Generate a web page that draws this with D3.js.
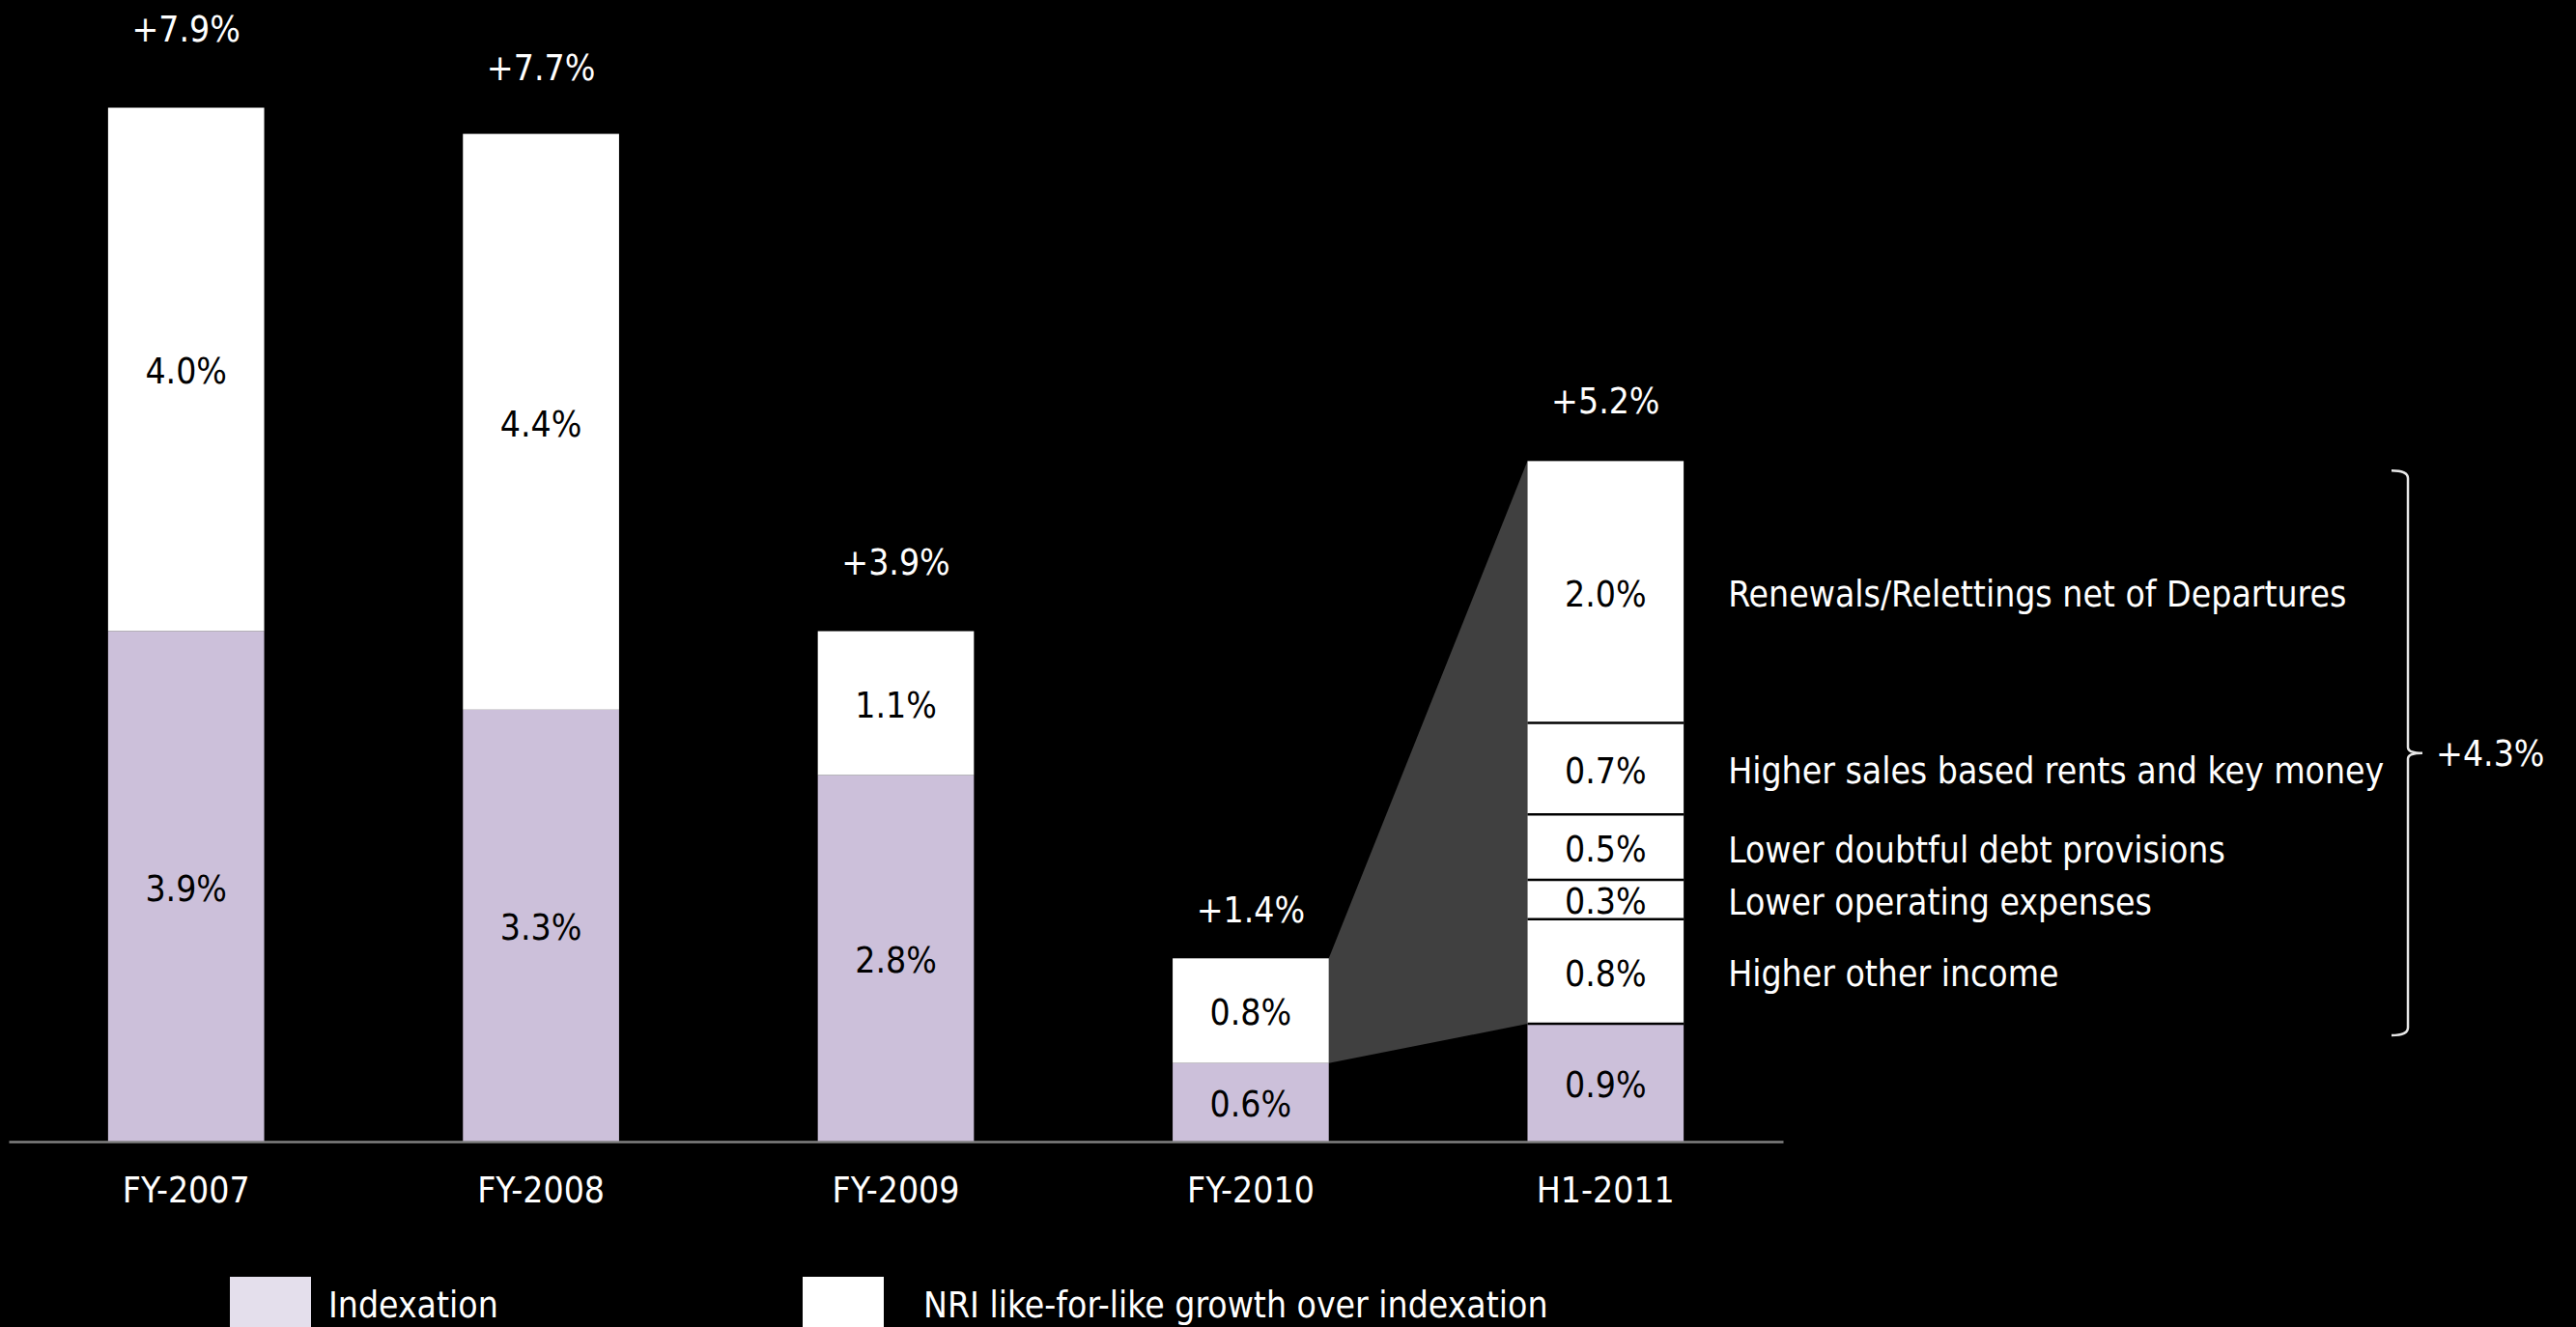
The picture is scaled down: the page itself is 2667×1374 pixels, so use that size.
<!DOCTYPE html>
<html>
<head>
<meta charset="utf-8">
<script src="https://cdn.jsdelivr.net/npm/d3@7"></script>
<style>
  html, body { margin: 0; padding: 0; background: #000; }
  svg { display: block; }
  text { font-family: "DejaVu Sans Condensed", "DejaVu Sans", sans-serif; font-stretch: condensed; font-size: 37px; }
</style>
</head>
<body>
<div id="chart"></div>
<script>
// data
var categories = ["FY-2007", "FY-2008", "FY-2009", "FY-2010", "H1-2011"];
var indexation = [3.9, 3.3, 2.8, 0.6, 0.9];
var lflGrowth = [4.0, 4.4, 1.1, 0.8, 4.3];
var totals = [7.9, 7.7, 3.9, 1.4, 5.2];

// H1-2011 growth split, bottom to top
var drivers = ["Higher other income", "Lower operating expenses", "Lower doubtful debt provisions",
               "Higher sales based rents and key money", "Renewals/Relettings net of Departures"];
var driverValues = [0.8, 0.3, 0.5, 0.7, 2.0];

var legendLabels = ["Indexation", "NRI like-for-like growth over indexation"];

// gap (px) between bar top and its total label, as placed on the slide
var totalGap = [69, 56, 59, 37, 49];

var width = 2667, height = 1374;
var lilac = "#CCC0DA", lilacLight = "#E4DFEC";
var pct = function(v) { return d3.format(".1f")(v) + "%"; };

var svg = d3.select("#chart").append("svg")
    .attr("width", width)
    .attr("height", height);

var x = d3.scaleBand()
    .domain(categories)
    .range([9, 1846])
    .paddingInner(0.56)
    .paddingOuter(0.28);

var y = d3.scaleLinear()
    .domain([0, 7.9])
    .range([1182, 111.5]);

var bw = x.bandwidth();
var last = categories.length - 1;

// grey wedge linking FY-2010 growth to the H1-2011 breakdown
var c0 = categories[3], c1 = categories[4];
svg.append("path")
    .attr("fill", "#404040")
    .attr("d", d3.line()([
      [x(c0) + bw, y(totals[3])],
      [x(c1), y(totals[4])],
      [x(c1), y(indexation[4])],
      [x(c0) + bw, y(indexation[3])]
    ]) + "Z");

var bars = svg.selectAll(".bar")
  .data(categories)
  .enter().append("g")
    .attr("class", "bar");

// indexation part
bars.append("rect")
    .attr("x", function(d) { return x(d); })
    .attr("width", bw)
    .attr("y", function(d, i) { return y(indexation[i]); })
    .attr("height", function(d, i) { return y(0) - y(indexation[i]); })
    .attr("fill", lilac);

bars.append("text")
    .attr("x", function(d) { return x(d) + bw / 2; })
    .attr("y", function(d, i) { return (y(0) + y(indexation[i])) / 2; })
    .attr("dy", "0.4em")
    .attr("text-anchor", "middle")
    .attr("fill", "#000")
    .text(function(d, i) { return pct(indexation[i]); });

// growth over indexation (single block except last bar)
var plain = bars.filter(function(d, i) { return i < last; });
plain.append("rect")
    .attr("x", function(d) { return x(d); })
    .attr("width", bw)
    .attr("y", function(d, i) { return y(indexation[i] + lflGrowth[i]); })
    .attr("height", function(d, i) { return y(indexation[i]) - y(indexation[i] + lflGrowth[i]); })
    .attr("fill", "#fff");

plain.append("text")
    .attr("x", function(d) { return x(d) + bw / 2; })
    .attr("y", function(d, i) { return (y(indexation[i]) + y(indexation[i] + lflGrowth[i])) / 2; })
    .attr("dy", "0.4em")
    .attr("text-anchor", "middle")
    .attr("fill", "#000")
    .text(function(d, i) { return pct(lflGrowth[i]); });

// H1-2011 breakdown
var base = indexation[last];
var stack = driverValues.map(function(v, i) {
  var y0 = base + d3.sum(driverValues.slice(0, i));
  return {label: drivers[i], value: v, y0: y0, y1: y0 + v};
});

var brk = svg.append("g").attr("class", "breakdown");

brk.selectAll("rect")
  .data(stack)
  .enter().append("rect")
    .attr("x", x(c1))
    .attr("width", bw)
    .attr("y", function(d) { return y(d.y1); })
    .attr("height", function(d) { return y(d.y0) - y(d.y1); })
    .attr("fill", "#fff");

brk.selectAll("line")
  .data(stack)
  .enter().append("line")
    .attr("x1", x(c1))
    .attr("x2", x(c1) + bw)
    .attr("y1", function(d) { return y(d.y0); })
    .attr("y2", function(d) { return y(d.y0); })
    .attr("stroke", "#000")
    .attr("stroke-width", 2.5);

brk.selectAll("text.val")
  .data(stack)
  .enter().append("text")
    .attr("class", "val")
    .attr("x", x(c1) + bw / 2)
    .attr("y", function(d) { return (y(d.y0) + y(d.y1)) / 2; })
    .attr("dy", "0.4em")
    .attr("text-anchor", "middle")
    .attr("fill", "#000")
    .text(function(d) { return pct(d.value); });

brk.selectAll("text.lab")
  .data(stack)
  .enter().append("text")
    .attr("class", "lab")
    .attr("x", x(c1) + bw + 46)
    .attr("y", function(d) { return (y(d.y0) + y(d.y1)) / 2; })
    .attr("dy", "0.42em")
    .attr("fill", "#fff")
    .text(function(d) { return d.label; });

// brace around the breakdown
var bTop = y(totals[last]) + 10,
    bBot = y(base) + 12,
    bMid = (bTop + bBot) / 2,
    bx0 = 2476, bx = 2493, btip = 2508;
svg.append("path")
    .attr("fill", "none")
    .attr("stroke", "#e6e6e6")
    .attr("stroke-width", 2.5)
    .attr("d", "M" + bx0 + "," + bTop +
               "Q" + bx + "," + bTop + " " + bx + "," + (bTop + 8) +
               "V" + (bMid - 6) +
               "Q" + bx + "," + bMid + " " + btip + "," + bMid +
               "Q" + bx + "," + bMid + " " + bx + "," + (bMid + 6) +
               "V" + (bBot - 8) +
               "Q" + bx + "," + bBot + " " + bx0 + "," + bBot);

svg.append("text")
    .attr("x", 2522)
    .attr("y", bMid)
    .attr("dy", "0.35em")
    .attr("fill", "#fff")
    .text("+" + pct(lflGrowth[last]));

// totals above bars
bars.append("text")
    .attr("x", function(d) { return x(d) + bw / 2; })
    .attr("y", function(d, i) { return y(totals[i]) - totalGap[i]; })
    .attr("text-anchor", "middle")
    .attr("fill", "#fff")
    .text(function(d, i) { return "+" + pct(totals[i]); });

// x-axis
var axis = svg.append("g")
    .attr("transform", "translate(0," + y(0) + ")")
    .call(d3.axisBottom(x).tickSize(0).tickSizeOuter(0).tickPadding(37));

axis.select(".domain")
    .attr("stroke", "#808080")
    .attr("stroke-width", 2.5);

axis.selectAll("text")
    .attr("fill", "#fff")
    .style("font-size", "37px")
    .style("font-family", "'DejaVu Sans Condensed', 'DejaVu Sans', sans-serif");

// legend
var legendX = [238, 831];
var legend = svg.selectAll(".legend")
  .data(legendLabels)
  .enter().append("g")
    .attr("class", "legend")
    .attr("transform", function(d, i) { return "translate(" + legendX[i] + ",1322)"; });

legend.append("rect")
    .attr("width", 84)
    .attr("height", 60)
    .attr("fill", function(d, i) { return i === 0 ? lilacLight : "#fff"; });

legend.append("text")
    .attr("x", function(d, i) { return i === 0 ? 102 : 125; })
    .attr("y", 42)
    .attr("fill", "#fff")
    .text(function(d) { return d; });
</script>
</body>
</html>
